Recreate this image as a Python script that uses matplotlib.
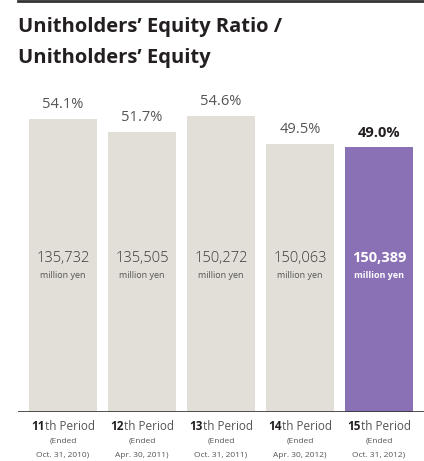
import matplotlib
matplotlib.use("Agg")
import matplotlib.pyplot as plt
from matplotlib.lines import Line2D

plt.rcParams["font.family"] = ["Open Sans", "DejaVu Sans"]

periods = ["11", "12", "13", "14", "15"]
ended = ["Oct. 31, 2010)", "Apr. 30, 2011)", "Oct. 31, 2011)", "Apr. 30, 2012)", "Oct. 31, 2012)"]
ratio = [54.1, 51.7, 54.6, 49.5, 49.0]
equity = ["135,732", "135,505", "150,272", "150,063", "150,389"]

grey = "#e2ded8"
purple = "#8a71b5"
txt = "#555555"
dark = "#231f20"

W, H = 424, 461
fig = plt.figure(figsize=(W / 100, H / 100), dpi=100)
fig.patch.set_facecolor("white")

# axes placed so bar centres land at 63 + 79*i px, baseline at y=412 px
ax = fig.add_axes([18 / W, 49 / H, 406 / W, 412 / H])
ax.set_xlim((18 - 63) / 79, (424 - 63) / 79)
ax.set_ylim(0, 412 / 5.416)
ax.axis("off")

x = list(range(len(ratio)))
colors = [grey] * 4 + [purple]
ax.bar(x, ratio, width=68 / 79, color=colors, zorder=2)
ax.axhline(0, color="#333333", lw=1.2, zorder=3)

for i, r in enumerate(ratio):
    last = i == len(ratio) - 1
    ax.annotate(f"{r:.1f}%", (i, r), xytext=(0, 5), textcoords="offset points",
                ha="center", va="bottom", fontsize=10.5,
                color=dark if last else txt, fontweight="bold" if last else "normal")
    c = "white" if last else "#3a3a3a"
    ax.text(i, (412 - 258) / 5.416, equity[i], ha="center", va="center",
            fontsize=10.5, color=c, fontweight="bold" if last else "light")
    ax.text(i, (412 - 275) / 5.416, "million yen", ha="center", va="center",
            fontsize=6.5, color="white" if last else txt, fontweight="bold" if last else "normal")

# top rule
fig.add_artist(Line2D([18 / W, 1], [1 - 1.5 / H, 1 - 1.5 / H], color="#333333", lw=2))

fig.text(18 / W, 1 - 27 / H, "Unitholders\u2019 Equity Ratio /", fontsize=14.5, fontweight="bold",
         color=dark, va="center", ha="left")
fig.text(18 / W, 1 - 58 / H, "Unitholders\u2019 Equity", fontsize=14.5, fontweight="bold",
         color=dark, va="center", ha="left")

# x labels: bold period number + regular "th Period"
fig.canvas.draw()
renderer = fig.canvas.get_renderer()
for i, p in enumerate(periods):
    cx = (63 + 79 * i) / W
    y = 1 - 426 / H
    t1 = fig.text(0, y, p, fontsize=8.5, fontweight="bold", color=dark, va="center", ha="left")
    t2 = fig.text(0, y, "th Period", fontsize=8.5, color=txt, va="center", ha="left")
    w1 = t1.get_window_extent(renderer).width / W
    w2 = t2.get_window_extent(renderer).width / W
    start = cx - (w1 + w2) / 2
    t1.set_x(start)
    t2.set_x(start + w1)
    fig.text(cx, 1 - 441 / H, "(Ended", fontsize=6, color=txt, ha="center", va="center")
    fig.text(cx, 1 - 455 / H, ended[i], fontsize=6, color=txt, ha="center", va="center")

fig.savefig("out.png", dpi=100)
